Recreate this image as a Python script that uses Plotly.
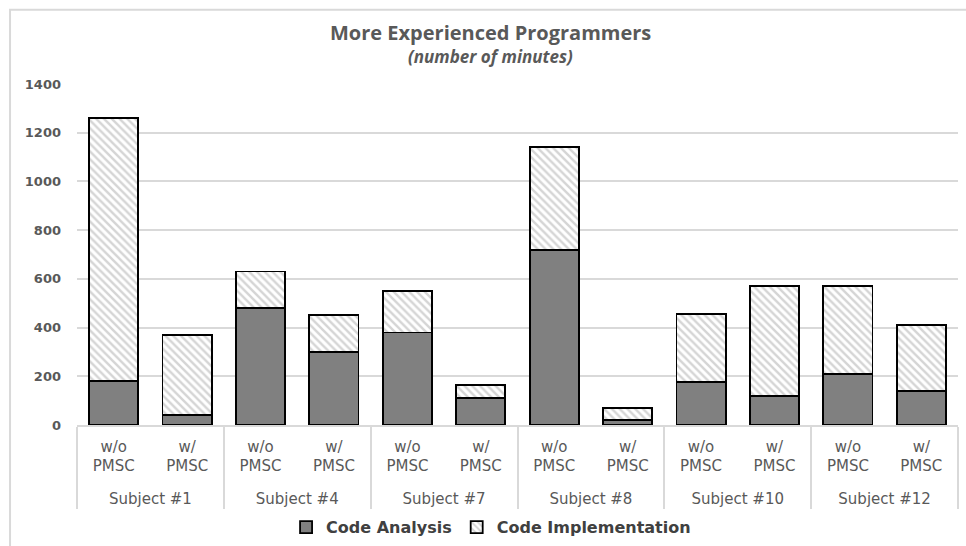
import plotly.graph_objects as go

# Data: minutes spent per subject, without / with PMSC
subjects = ["Subject #1", "Subject #4", "Subject #7", "Subject #8", "Subject #10", "Subject #12"]
conditions = ["w/o<br>PMSC", "w/<br>PMSC"]
code_analysis = [180, 40, 480, 300, 380, 110, 720, 20, 175, 120, 210, 140]
code_implementation = [1080, 330, 150, 150, 170, 55, 420, 50, 280, 450, 360, 270]
y_ticks = [0, 200, 400, 600, 800, 1000, 1200, 1400]

# outer level gets a leading line break so it sits lower under the inner labels
x_outer = ["<br>" + s for s in subjects for _ in conditions]
x_inner = [c for _ in subjects for c in conditions]
x = [x_outer, x_inner]

TEXT = "#595959"
GRID = "#d9d9d9"

fig = go.Figure()
fig.add_trace(go.Bar(
    name="Code Analysis",
    x=x, y=code_analysis,
    marker=dict(color="#808080", line=dict(color="black", width=1.8)),
))
fig.add_trace(go.Bar(
    name="Code Implementation",
    x=x, y=code_implementation,
    marker=dict(
        color="white",
        line=dict(color="black", width=1.8),
        pattern=dict(shape="\\", fgcolor="#ababab", bgcolor="white",
                     size=5.5, solidity=0.45, fillmode="overlay"),
    ),
))

fig.update_layout(
    barmode="stack",
    bargap=0.33,
    width=966, height=546,
    margin=dict(l=77, r=8, t=84, b=121, autoexpand=False),
    paper_bgcolor="white",
    plot_bgcolor="white",
    showlegend=True,
    legend=dict(
        orientation="h", x=0.47, xanchor="center", y=-0.30, yanchor="middle",
        font=dict(family="DejaVu Sans", size=16, color="#404040", weight="bold"),
        itemwidth=30,
        traceorder="normal",
    ),
    yaxis=dict(
        range=[0, 1400], tickvals=y_ticks,
        showgrid=True, gridcolor=GRID, gridwidth=1.5,
        zeroline=False, showline=False,
        tickfont=dict(family="DejaVu Sans", size=13, color=TEXT, weight="bold"),
        ticklabelstandoff=15,
        automargin=False,
    ),
    xaxis=dict(
        type="multicategory",
        showline=True, linecolor=GRID, linewidth=1.5,
        showdividers=True, dividercolor=GRID, dividerwidth=1.5,
        tickfont=dict(family="DejaVu Sans", size=15, color=TEXT),
        ticks="",
        ticklabelstandoff=7,
        automargin=False,
    ),
    annotations=[
        dict(text="<b>More Experienced Programmers</b>", xref="paper", yref="paper",
             x=0.469, y=1.152, showarrow=False, xanchor="center", yanchor="middle",
             font=dict(family="Open Sans", size=20, color=TEXT)),
        dict(text="<b><i>(number of minutes)</i></b>", xref="paper", yref="paper",
             x=0.469, y=1.081, showarrow=False, xanchor="center", yanchor="middle",
             font=dict(family="Open Sans", size=17, color=TEXT)),
    ],
    shapes=[
        dict(type="rect", xref="paper", yref="paper",
             x0=-0.076, x1=1.02, y0=-0.40, y1=1.218,
             line=dict(color=GRID, width=2), fillcolor="rgba(0,0,0,0)", layer="below"),
    ],
)

fig.write_html("out.html")
